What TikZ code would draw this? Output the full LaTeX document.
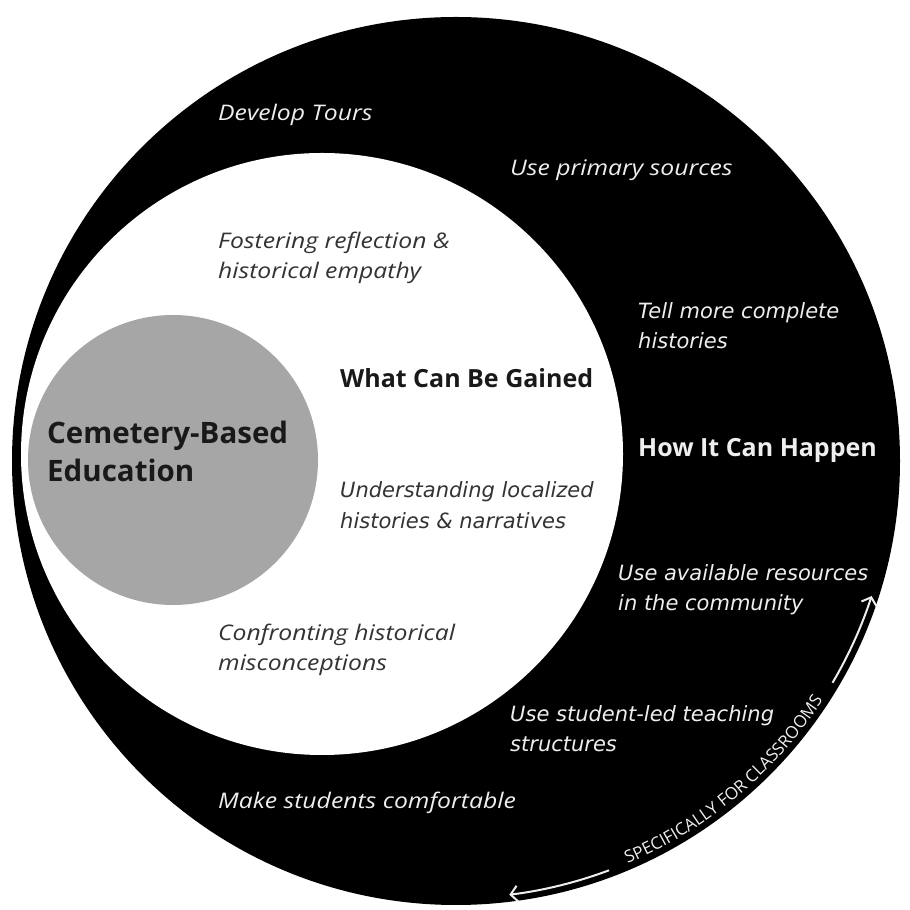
\documentclass[tikz,border=0pt]{standalone}
\usepackage{fontspec}
\setmainfont{Open Sans}
\newfontfamily\noteface[FakeStretch=1.15]{Open Sans}
\newfontfamily\wideface{DejaVu Sans}
\usetikzlibrary{arrows.meta,decorations.text}
\definecolor{coregray}{HTML}{A6A6A6}
\definecolor{inkdark}{HTML}{333333}
\definecolor{inklight}{HTML}{EEEEEE}
\tikzstyle{RingNode}=[circle, fill=black, inner sep=0pt, minimum size=888pt]
\tikzstyle{GainNode}=[circle, fill=white, inner sep=0pt, minimum size=602pt]
\tikzstyle{CoreNode}=[circle, fill=coregray, inner sep=0pt, minimum size=290pt]
\tikzstyle{NoteNode}=[anchor=west, align=left, inner sep=0pt, font=\noteface\itshape\fontsize{21.5}{30}\selectfont]
\tikzstyle{DarkNote}=[NoteNode, text=inkdark]
\tikzstyle{LightNote}=[NoteNode, text=inklight]
\tikzstyle{WideDark}=[DarkNote, font=\wideface\itshape\fontsize{21}{31}\selectfont]
\tikzstyle{WideLight}=[LightNote, font=\wideface\itshape\fontsize{21}{30}\selectfont]
\tikzstyle{HeadNode}=[anchor=west, align=left, inner sep=0pt, font=\bfseries\fontsize{25}{30}\selectfont]
\tikzstyle{FlowEdge}=[->, draw=inklight, line width=2pt]
\tikzset{>={Straight Barb[length=7pt,width=16pt]}}

\begin{document}
\begin{tikzpicture}[x=1pt,y=1pt]
\useasboundingbox[fill=white] (0,0) rectangle (910,910);
\node[RingNode](ring) at (456,449) {};
\node[GainNode](gain) at (322,456) {};
\node[CoreNode](core) at (173,450) {};

\node[HeadNode, text=black!90, font=\bfseries\fontsize{29.5}{38}\selectfont](cbe) at (47,459) {Cemetery-Based\\Education};
\node[HeadNode, text=black!90](gained) at (340,532) {What Can Be Gained};
\node[HeadNode, text=inklight](happen) at (638,460) {How It Can Happen};

\node[DarkNote](reflect) at (218,652) {Fostering reflection \&\\historical empathy};
\node[WideDark](local) at (340,405) {Understanding localized\\histories \& narratives};
\node[DarkNote](confront) at (218,260) {Confronting historical\\misconceptions};

\node[LightNote](tours) at (218,795) {Develop Tours};
\node[LightNote](primary) at (510,740) {Use primary sources};
\node[WideLight](complete) at (638,584) {Tell more complete\\histories};
\node[WideLight](resources) at (618,320) {Use available resources\\in the community};
\node[WideLight](studentled) at (510,181) {Use student-led teaching\\structures};
\node[LightNote](comfort) at (218,107) {Make students comfortable};

% classroom arrows along the ring
\coordinate (upA) at ([shift={(-30.5:437)}]ring.center);
\coordinate (loA) at ([shift={(-69.5:437)}]ring.center);
\draw[FlowEdge](upA) arc[start angle=-30.5, end angle=-18, radius=437];
\draw[FlowEdge](loA) arc[start angle=-69.5, end angle=-83, radius=437];
\path[decorate, decoration={text along path, text align=center,
  text={|\color{inklight}\fontsize{17}{17}\selectfont|SPECIFICALLY FOR CLASSROOMS}}]
  ([shift={(-68:438)}]ring.center) arc[start angle=-68, end angle=-32, radius=438];
\end{tikzpicture}
\end{document}
